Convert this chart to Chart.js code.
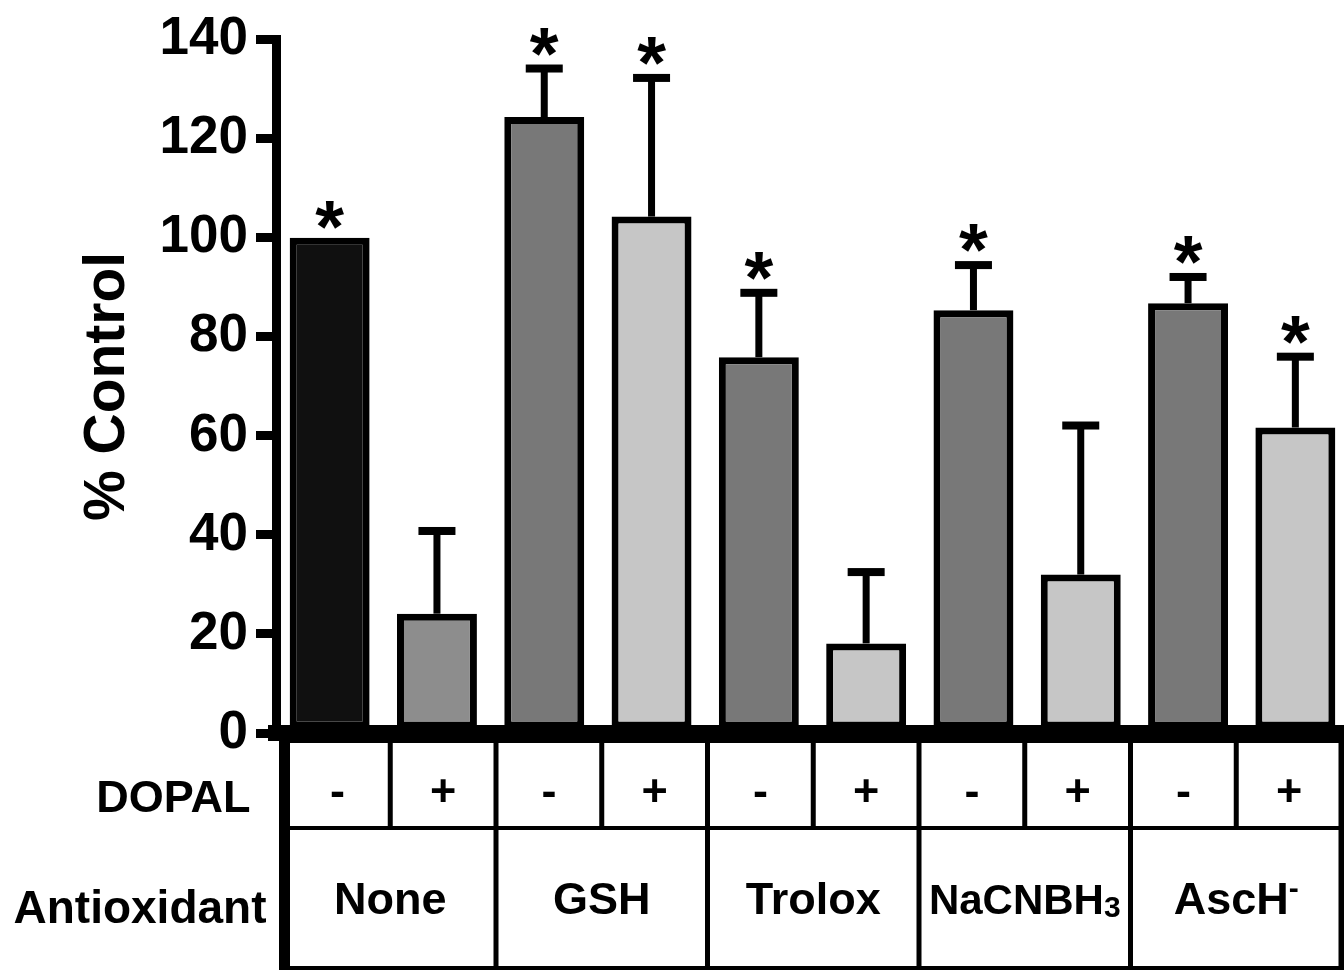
<!DOCTYPE html>
<html>
<head>
<meta charset="utf-8">
<script src="https://cdn.jsdelivr.net/npm/chart.js@4/dist/chart.umd.min.js"></script>
<style>
  html, body { margin: 0; padding: 0; background: #fff; overflow: hidden; }
  #wrap { width: 1349px; height: 970px; }
</style>
</head>
<body>
<div id="wrap"><canvas id="c" width="1349" height="970"></canvas></div>
<script>
// ---- data ----
const categories = ['None -', 'None +', 'GSH -', 'GSH +', 'Trolox -', 'Trolox +', 'NaCNBH3 -', 'NaCNBH3 +', 'AscH- -', 'AscH- +'];
const dopalLabels = ['-', '+', '-', '+', '-', '+', '-', '+', '-', '+'];
const antioxidantLabels = ['None', 'GSH', 'Trolox', 'NaCNBH₃', 'AscH⁻'];
const percentControl = [100, 24.1, 124.4, 104.3, 75.9, 18.1, 85.4, 32.0, 86.8, 61.7];
const semValues = [0, 16.7, 9.8, 28.0, 13.0, 14.4, 9.1, 30.1, 5.3, 14.3];
const significant = [true, false, true, true, true, false, true, false, true, true];
const yTickValues = [0, 20, 40, 60, 80, 100, 120, 140];
const rowTitles = ['DOPAL', 'Antioxidant'];

// ---- style ----
const FONT = "'Liberation Sans', Arial, Helvetica, sans-serif";
const barColors = ['#101010', '#8d8d8d', '#787878', '#c6c6c6', '#787878', '#c6c6c6', '#787878', '#c6c6c6', '#787878', '#c6c6c6'];

const errorBarPlugin = {
  id: 'errorBars',
  afterDatasetsDraw(chart) {
    const ctx = chart.ctx;
    const y = chart.scales.y;
    const meta = chart.getDatasetMeta(0);
    ctx.save();
    ctx.fillStyle = '#000';
    meta.data.forEach((bar, i) => {
      const x = bar.x;
      let topEdge = bar.y;
      if (semValues[i] > 0) {
        const yTop = y.getPixelForValue(percentControl[i] + semValues[i]);
        ctx.fillRect(x - 3.5, yTop, 7, bar.y - yTop);
        ctx.fillRect(x - 18.5, yTop - 4, 37, 8);
        topEdge = yTop - 4;
      }
      if (significant[i]) {
        ctx.font = 'bold 74px ' + FONT;
        ctx.textAlign = 'center';
        ctx.textBaseline = 'alphabetic';
        const m = ctx.measureText('*');
        const bottomTarget = topEdge - 9;
        ctx.fillText('*', x, bottomTarget - m.actualBoundingBoxDescent);
      }
    });
    ctx.restore();
  }
};

function drawRich(ctx, text, cx, baseline, size) {
  let main = text, extra = null;
  if (text.endsWith('₃')) { main = text.slice(0, -1); extra = { t: '3', size: 30, dy: 3 }; }
  else if (text.endsWith('⁻')) { main = text.slice(0, -1); extra = { t: '-', size: 30, dy: -16 }; }
  const mainSize = extra && extra.t === '3' ? 42 : size;
  ctx.font = 'bold ' + mainSize + 'px ' + FONT;
  const wMain = ctx.measureText(main).width;
  let wExtra = 0;
  if (extra) {
    ctx.font = 'bold ' + extra.size + 'px ' + FONT;
    wExtra = ctx.measureText(extra.t).width;
  }
  const x0 = cx - (wMain + wExtra) / 2;
  ctx.textAlign = 'left';
  ctx.font = 'bold ' + mainSize + 'px ' + FONT;
  ctx.fillText(main, x0, baseline);
  if (extra) {
    ctx.font = 'bold ' + extra.size + 'px ' + FONT;
    ctx.fillText(extra.t, x0 + wMain, baseline + extra.dy);
  }
}

const tablePlugin = {
  id: 'designTable',
  afterDraw(chart) {
    const ctx = chart.ctx;
    const ca = chart.chartArea;
    const H = chart.height;
    const L = ca.left + 8.5, R = ca.right - 7;
    const n = categories.length;
    const colW = (R - L) / n;
    const top = ca.bottom + 8;
    const mid = ca.bottom + 95;
    const bot = H - 2;
    ctx.save();
    ctx.fillStyle = '#000';
    // outer borders
    ctx.fillRect(L - 5.5, ca.bottom, 11, H - ca.bottom);
    ctx.fillRect(R - 3.5, ca.bottom, 7, H - ca.bottom);
    ctx.fillRect(L, ca.bottom - 6, R - L, 16);
    ctx.fillRect(L, mid - 2, R - L, 4);
    ctx.fillRect(L, bot - 2, R - L, 4);
    // DOPAL row dividers
    for (let i = 1; i < n; i++) {
      ctx.fillRect(L + i * colW - 2.5, top, 5, mid - top);
    }
    // antioxidant row dividers
    for (let i = 2; i < n; i += 2) {
      ctx.fillRect(L + i * colW - 2.5, mid, 5, bot - mid);
    }
    // texts
    ctx.textBaseline = 'alphabetic';
    ctx.font = 'bold 45px ' + FONT;
    ctx.textAlign = 'center';
    dopalLabels.forEach((t, i) => {
      ctx.fillText(t, L + (i + 0.5) * colW, ca.bottom + 73);
    });
    antioxidantLabels.forEach((t, g) => {
      drawRich(ctx, t, L + (2 * g + 1) * colW, ca.bottom + 181, 45);
    });
    ctx.textAlign = 'right';
    ctx.font = 'bold 45px ' + FONT;
    ctx.fillText(rowTitles[0], ca.left - 25.5, ca.bottom + 79);
    ctx.font = 'bold 46px ' + FONT;
    ctx.fillText(rowTitles[1], ca.left - 9.5, ca.bottom + 190);
    ctx.restore();
  }
};

new Chart(document.getElementById('c'), {
  type: 'bar',
  data: {
    labels: categories,
    datasets: [{
      data: percentControl,
      backgroundColor: barColors,
      borderColor: '#000',
      borderWidth: 7,
      borderSkipped: false,
      barPercentage: 0.745,
      categoryPercentage: 1.0
    }]
  },
  options: {
    responsive: false,
    devicePixelRatio: 1,
    animation: false,
    layout: { padding: { top: 38, left: 0, right: 0, bottom: 0 } },
    plugins: { legend: { display: false }, tooltip: { enabled: false } },
    scales: {
      x: {
        ticks: { display: false },
        grid: { display: false },
        border: { display: true, width: 16, color: '#000' },
        afterFit(scale) { scale.height = 237; }
      },
      y: {
        min: 0,
        max: 140,
        afterBuildTicks(scale) { scale.ticks = yTickValues.map(v => ({ value: v })); },
        ticks: {
          color: '#000',
          padding: 8,
          font: { family: FONT, size: 53, weight: 'bold' }
        },
        grid: {
          display: true,
          drawOnChartArea: false,
          drawTicks: true,
          tickLength: 20,
          tickWidth: 9,
          tickColor: '#000',
          lineWidth: 9,
          color: '#000'
        },
        border: { display: true, width: 9, color: '#000' },
        title: {
          display: true,
          text: '% Control',
          color: '#000',
          font: { family: FONT, size: 57, weight: 'bold' },
          padding: { top: 74, bottom: 0 }
        },
        afterFit(scale) { scale.width = 276; }
      }
    }
  },
  plugins: [errorBarPlugin, tablePlugin]
});
</script>
</body>
</html>
